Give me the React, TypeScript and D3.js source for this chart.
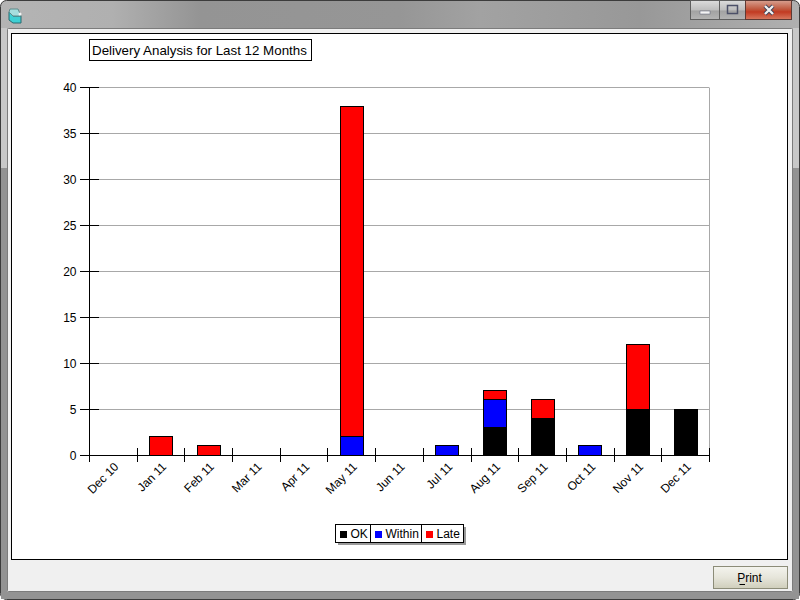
import React, { useEffect, useRef } from "react";
import * as d3 from "d3";

const months = ["Dec 10", "Jan 11", "Feb 11", "Mar 11", "Apr 11", "May 11", "Jun 11", "Jul 11", "Aug 11", "Sep 11", "Oct 11", "Nov 11", "Dec 11"];
const okValues = [0, 0, 0, 0, 0, 0, 0, 0, 3, 4, 0, 5, 5];
const withinValues = [0, 0, 0, 0, 0, 2, 0, 1, 3, 0, 1, 0, 0];
const lateValues = [0, 2, 1, 0, 0, 36, 0, 0, 1, 2, 0, 7, 0];
const seriesNames = ["OK", "Within", "Late"];
const seriesColors = ["#000000", "#0000ff", "#ff0000"];
const yTicks = [0, 5, 10, 15, 20, 25, 30, 35, 40];

const FONT = "'Liberation Sans', Arial, sans-serif";

const App = () => {
  const chartRef = useRef<SVGSVGElement>(null);

  useEffect(() => {
    const svg = d3.select(chartRef.current);
    svg.selectAll("*").remove();

    // window chrome
    const defs = svg.append("defs");
    const frameGrad = defs.append("linearGradient").attr("id", "frame").attr("x1", 0).attr("x2", 1).attr("y1", 0).attr("y2", 0);
    [[0, "#b4b4b4"], [0.14, "#b0b0b0"], [0.25, "#949494"], [0.5, "#969696"], [0.6, "#a2a2a2"], [0.8, "#989898"], [1, "#b0b0b0"]].forEach(([o, c]) =>
      frameGrad.append("stop").attr("offset", o).attr("stop-color", c)
    );
    const closeGrad = defs.append("linearGradient").attr("id", "closeBtn").attr("x1", 0).attr("x2", 0).attr("y1", 0).attr("y2", 1);
    [[0, "#d8a090"], [0.45, "#c0593f"], [0.6, "#c23a22"], [1, "#d87a60"]].forEach(([o, c]) =>
      closeGrad.append("stop").attr("offset", o).attr("stop-color", c)
    );
    const btnGrad = defs.append("linearGradient").attr("id", "winBtn").attr("x1", 0).attr("x2", 0).attr("y1", 0).attr("y2", 1);
    [[0, "#dcdcdc"], [0.5, "#bdbdbd"], [0.55, "#a2a2a2"], [1, "#b4b4b4"]].forEach(([o, c]) =>
      btnGrad.append("stop").attr("offset", o).attr("stop-color", c)
    );
    const printGrad = defs.append("linearGradient").attr("id", "printBtn").attr("x1", 0).attr("x2", 0).attr("y1", 0).attr("y2", 1);
    [[0, "#f4f4ee"], [0.5, "#e6e5da"], [1, "#cfcebb"]].forEach(([o, c]) =>
      printGrad.append("stop").attr("offset", o).attr("stop-color", c)
    );

    svg.append("rect").attr("width", 800).attr("height", 600).attr("fill", "#ffffff");
    svg.append("rect").attr("x", 0.5).attr("y", 0.5).attr("width", 799).attr("height", 599).attr("rx", 6)
      .attr("fill", "url(#frame)").attr("stroke", "#3c3c3c");
    // side borders: light upper part, darker from y=168 down
    svg.append("rect").attr("x", 1).attr("y", 28).attr("width", 6).attr("height", 140).attr("fill", "#c8c8c8");
    svg.append("rect").attr("x", 793).attr("y", 28).attr("width", 6).attr("height", 140).attr("fill", "#c8c8c8");
    svg.append("rect").attr("x", 1).attr("y", 168).attr("width", 6).attr("height", 424).attr("fill", "#939393");
    svg.append("rect").attr("x", 793).attr("y", 168).attr("width", 6).attr("height", 424).attr("fill", "#939393");
    svg.append("rect").attr("x", 1).attr("y", 592).attr("width", 798).attr("height", 7).attr("fill", "#939393");
    svg.append("rect").attr("x", 7.5).attr("y", 28.5).attr("width", 785).attr("height", 563).attr("rx", 1)
      .attr("fill", "#f0f0f0").attr("stroke", "#7c7c7c");
    svg.append("rect").attr("x", 11.5).attr("y", 33.5).attr("width", 776).attr("height", 526)
      .attr("fill", "#ffffff").attr("stroke", "#000000");

    // title bar icon
    const icon = svg.append("g");
    icon.append("path").attr("d", "M9,12 L13,16 L21,16 L21,23 L13,23 L9,20 Z").attr("fill", "#3fd0d4").attr("stroke", "#2a6a70");
    icon.append("path").attr("d", "M9,12 L10,9 L18,9 L21,16 L13,16 Z").attr("fill", "#a6dede").attr("stroke", "#5f8a8a");
    icon.append("circle").attr("cx", 20).attr("cy", 14).attr("r", 1.5).attr("fill", "#f4f4f4");

    // title bar buttons
    const buttons = svg.append("g");
    buttons.append("rect").attr("x", 690.5).attr("y", 0.5).attr("width", 29).attr("height", 19).attr("fill", "url(#winBtn)").attr("stroke", "#5e5e5e");
    buttons.append("rect").attr("x", 719.5).attr("y", 0.5).attr("width", 26).attr("height", 19).attr("fill", "url(#winBtn)").attr("stroke", "#5e5e5e");
    buttons.append("rect").attr("x", 745.5).attr("y", 0.5).attr("width", 46).attr("height", 19).attr("fill", "url(#closeBtn)").attr("stroke", "#5e3a34");
    buttons.append("rect").attr("x", 700).attr("y", 11).attr("width", 10).attr("height", 3).attr("fill", "#f4f4f4").attr("stroke", "#555a70").attr("stroke-width", 0.5);
    buttons.append("rect").attr("x", 727.5).attr("y", 5.5).attr("width", 10).attr("height", 8).attr("fill", "none").attr("stroke", "#4c5068").attr("stroke-width", 1.5);
    buttons.append("path").attr("d", "M765,6 L773,14 M773,6 L765,14").attr("stroke", "#3a3f55").attr("stroke-width", 4);
    buttons.append("path").attr("d", "M765,6 L773,14 M773,6 L765,14").attr("stroke", "#f2f2f2").attr("stroke-width", 2.4);

    // scales
    const plot = { left: 89, right: 709, top: 87, bottom: 455 };
    const x = d3.scaleBand<string>().domain(months).range([plot.left, plot.right]);
    const y = d3.scaleLinear().domain([0, 40]).range([plot.bottom, plot.top]);
    // the bars in the original run one pixel short of the axis scale at the top
    const yBar = d3.scaleLinear().domain([0, 40]).range([plot.bottom, plot.top + 1]);

    // grid
    svg.append("g").selectAll("line").data(yTicks.filter((d) => d > 0)).join("line")
      .attr("x1", plot.left).attr("x2", plot.right)
      .attr("y1", (d) => Math.round(y(d)) + 0.5).attr("y2", (d) => Math.round(y(d)) + 0.5)
      .attr("stroke", "#a8a8a8");
    svg.append("line").attr("x1", plot.right + 0.5).attr("x2", plot.right + 0.5)
      .attr("y1", Math.round(y(40)) + 0.5).attr("y2", plot.bottom).attr("stroke", "#a8a8a8");

    // stacked bars
    const rows = months.map((m, i) => ({ month: m, OK: okValues[i], Within: withinValues[i], Late: lateValues[i] }));
    const stacked = d3.stack<any>().keys(seriesNames)(rows);
    const barWidth = 23;
    stacked.forEach((layer, k) => {
      svg.append("g").selectAll("rect").data(layer.filter((d) => d[1] > d[0])).join("rect")
        .attr("x", (d) => Math.round(x(d.data.month)! + x.bandwidth() / 2 - barWidth / 2) + 0.5)
        .attr("y", (d) => Math.floor(yBar(d[1])) + 0.5)
        .attr("width", barWidth)
        .attr("height", (d) => Math.floor(yBar(d[0])) - Math.floor(yBar(d[1])))
        .attr("fill", seriesColors[k])
        .attr("stroke", "#000000");
    });

    // axes
    const yAxis = svg.append("g").attr("font-family", FONT).attr("font-size", 12);
    yAxis.append("line").attr("x1", plot.left + 0.5).attr("x2", plot.left + 0.5)
      .attr("y1", plot.top).attr("y2", plot.bottom + 7).attr("stroke", "#000");
    yAxis.selectAll("line.tick").data(yTicks).join("line").attr("class", "tick")
      .attr("x1", 80).attr("x2", (d) => (d === 0 ? plot.left : 99))
      .attr("y1", (d) => Math.round(y(d)) + 0.5).attr("y2", (d) => Math.round(y(d)) + 0.5)
      .attr("stroke", "#000");
    yAxis.selectAll("text").data(yTicks).join("text")
      .attr("x", 76.5).attr("y", (d) => y(d) + 4.5)
      .attr("text-anchor", "end").attr("fill", "#000")
      .text((d) => d);

    const xAxis = svg.append("g").attr("font-family", FONT).attr("font-size", 12);
    xAxis.append("line").attr("x1", plot.left).attr("x2", plot.right + 1)
      .attr("y1", plot.bottom + 0.5).attr("y2", plot.bottom + 0.5).attr("stroke", "#000");
    const edges = months.map((m) => x(m)!).concat(plot.right);
    xAxis.selectAll("line.tick").data(edges).join("line").attr("class", "tick")
      .attr("x1", (d) => Math.round(d) + 0.5).attr("x2", (d) => Math.round(d) + 0.5)
      .attr("y1", plot.bottom - 7).attr("y2", plot.bottom + 7)
      .attr("stroke", "#000");
    xAxis.selectAll("text").data(months).join("text")
      .attr("text-anchor", "end").attr("fill", "#000")
      .attr("transform", (d) => `translate(${x(d)! + x.bandwidth() / 2 + 6.5},${plot.bottom + 12.5}) rotate(-45)`)
      .text((d) => d);

    // chart title
    svg.append("rect").attr("x", 89.5).attr("y", 39.5).attr("width", 222).attr("height", 21).attr("fill", "#fff").attr("stroke", "#000");
    svg.append("text").attr("x", 92).attr("y", 54.5).attr("font-family", FONT).attr("font-size", 13.33).attr("fill", "#000")
      .text("Delivery Analysis for Last 12 Months");

    // legend
    const legendEdges = [335.5, 370.5, 421.5, 463.5];
    const legend = svg.append("g").attr("font-family", FONT).attr("font-size", 12);
    legend.append("rect").attr("x", 338).attr("y", 527).attr("width", 128).attr("height", 18).attr("fill", "#9a9a9a");
    legend.append("rect").attr("x", legendEdges[0]).attr("y", 524.5).attr("width", 128).attr("height", 18).attr("fill", "#fff").attr("stroke", "#000");
    seriesNames.forEach((name, i) => {
      if (i > 0) {
        legend.append("line").attr("x1", legendEdges[i]).attr("x2", legendEdges[i]).attr("y1", 524.5).attr("y2", 542.5).attr("stroke", "#000");
      }
      legend.append("rect").attr("x", legendEdges[i] + 4.5).attr("y", 531).attr("width", 7).attr("height", 7).attr("fill", seriesColors[i]);
      legend.append("text").attr("x", legendEdges[i] + 15).attr("y", 538).attr("fill", "#000").text(name);
    });

    // print button
    svg.append("rect").attr("x", 713.5).attr("y", 566.5).attr("width", 74).attr("height", 22).attr("fill", "url(#printBtn)").attr("stroke", "#8c8c78");
    svg.append("text").attr("x", 749.5).attr("y", 582).attr("text-anchor", "middle").attr("font-family", FONT).attr("font-size", 12).attr("fill", "#000")
      .text("Print");
    svg.append("line").attr("x1", 739.5).attr("x2", 745).attr("y1", 584.5).attr("y2", 584.5).attr("stroke", "#000");
  }, []);

  return <svg ref={chartRef} width={800} height={600} style={{ position: "absolute", left: 0, top: 0 }}></svg>;
};

export default App;
